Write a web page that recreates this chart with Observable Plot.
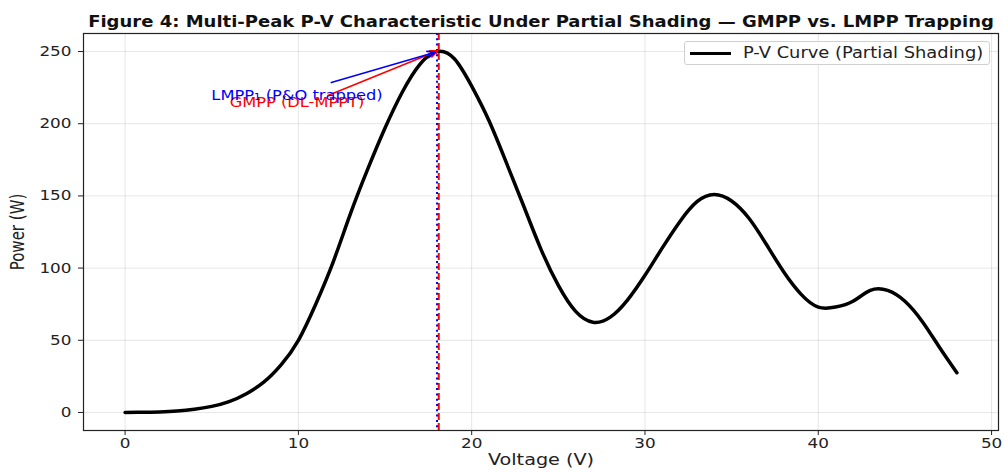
<!DOCTYPE html>
<html>
<head>
<meta charset="utf-8">
<script src="https://cdn.jsdelivr.net/npm/d3@7"></script>
<script src="https://cdn.jsdelivr.net/npm/@observablehq/plot@0.6"></script>
<style>
  html, body { margin: 0; padding: 0; background: white; }
  #wrap { position: relative; width: 1004px; height: 474px; }
  #legend {
    position: absolute; left: 684px; top: 41px; width: 306px; height: 24px;
    border: 1px solid #d0d0d0; border-radius: 3px; background: rgba(255,255,255,0.85);
    font-family: "DejaVu Sans", sans-serif; font-size: 15px; color: #222;
    display: flex; align-items: center; box-sizing: border-box;
  }
  #legend .sw { width: 41px; height: 0; border-top: 3.5px solid black; margin-left: 5px; margin-right: 12px; }
  #legend span { display: inline-block; transform: scaleX(1.19); transform-origin: left center; white-space: nowrap; }
</style>
</head>
<body>
<div id="wrap"><div id="legend"><div class="sw"></div><span>P-V Curve (Partial Shading)</span></div></div>
<script>
// ---- data ----
const voltage = [0,1,2,3,4,5,6,7,8,9,10,11,12,13,14,15,16,17,18,19,20,21,22,23,24,25,26,27,28,29,30,31,32,33,34,35,36,37,38,39,40,41,42,43,44,45,46,47,48];
const power   = [0,0.1,0.4,1.0,2.2,4.2,7.5,13,21,33,50,75,104,137.5,168.5,197,222,241,250,245,226,202,173,143,113,88,70,62.5,66,78,95,114,132,146,151,146.5,134.5,116.5,97.5,82,73,73,77,84.5,84.5,77,63,45,27.5];
const xTicks = [0,10,20,30,40,50];
const yTicks = [0,50,100,150,200,250];
const gmppV = 18.1;   // GMPP (DL-MPPT) line
const lmppV = 18.0;   // LMPP1 (P&O trapped) line
const annotations = [
  {label: "GMPP (DL-MPPT)",           color: "red",  tx: 9.92, ty: 211.6, ax: 11.7, ay: 219.5, px: 18.05, py: 250.5},
  {label: "LMPP\u2081 (P&O trapped)", color: "blue", tx: 9.92, ty: 216.5, ax: 11.9, ay: 228.5, px: 17.9, py: 249.5}
];
const title = "Figure 4: Multi-Peak P-V Characteristic Under Partial Shading \u2014 GMPP vs. LMPP Trapping";
const xLabel = "Voltage (V)";
const yLabel = "Power (W)";

const curve = voltage.map((v, i) => ({v, p: power[i]}));
const font = "DejaVu Sans";

const chart = Plot.plot({
  width: 1004, height: 474,
  marginLeft: 83, marginRight: 6, marginTop: 33, marginBottom: 44,
  x: {domain: [-2.4, 50.4], ticks: xTicks, label: null},
  y: {domain: [-12.5, 262.5], ticks: yTicks, label: null},
  style: {fontFamily: font, background: "white", color: "#222"},
  marks: [
    Plot.gridX(xTicks, {stroke: "#000", strokeOpacity: 0.1, strokeWidth: 1}),
    Plot.gridY(yTicks, {stroke: "#000", strokeOpacity: 0.1, strokeWidth: 1}),
    Plot.line(curve, {x: "v", y: "p", stroke: "black", strokeWidth: 3.5, curve: "natural"}),
    Plot.ruleX([gmppV], {stroke: "red", strokeWidth: 2, strokeDasharray: "7,3"}),
    Plot.ruleX([lmppV], {stroke: "blue", strokeWidth: 2, strokeDasharray: "2,3.3"}),
    Plot.arrow(annotations, {x1: "ax", y1: "ay", x2: "px", y2: "py", stroke: "color", strokeWidth: 1.6, headLength: 8, headAngle: 45}),
    Plot.text(annotations, {x: "tx", y: "ty", text: "label", fill: "color", fontSize: 14, textAnchor: "middle", lineAnchor: "bottom"}),
    Plot.axisX(xTicks, {tickSize: 5, tickPadding: 3, fontSize: 14, label: null, stroke: "#222", fill: "#222"}),
    Plot.axisY(yTicks, {tickSize: 5, tickPadding: 7, fontSize: 14, label: null, stroke: "#222", fill: "#222"}),
    Plot.frame({stroke: "#222", strokeWidth: 1.2}),
    Plot.text([title], {frameAnchor: "top", dy: -17, fontWeight: "bold", fontSize: 15, fill: "#111"}),
    Plot.text([xLabel], {frameAnchor: "bottom", dy: 34, fontSize: 16, fill: "#222"}),
    Plot.text([yLabel], {frameAnchor: "left", dx: -66, rotate: -90, textAnchor: "middle", lineAnchor: "middle", fontSize: 15, fill: "#222"})
  ]
});
const wrap = document.getElementById("wrap");
wrap.insertBefore(chart, wrap.firstChild);

// The reference is horizontally stretched; widen texts horizontally to match.
const annLabels = annotations.map(d => d.label);
chart.querySelectorAll("text").forEach(t => {
  const s = t.textContent;
  if (s === yLabel) {
    t.setAttribute("transform", (t.getAttribute("transform") || "") + " scale(1,1.25)");
    return;
  }
  const f = annLabels.includes(s) ? 1.16 : 1.2;
  const L = t.getComputedTextLength();
  if (L > 0) {
    t.setAttribute("textLength", (L * f).toFixed(1));
    t.setAttribute("lengthAdjust", "spacingAndGlyphs");
  }
});
</script>
</body>
</html>
